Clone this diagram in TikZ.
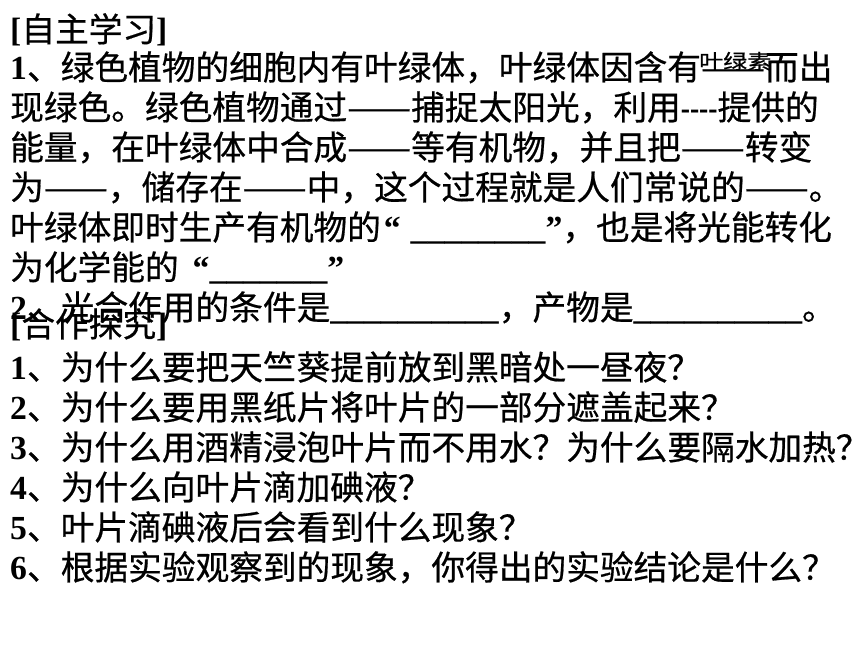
\documentclass[tikz,border=0pt]{standalone}
\usepackage{fontspec}
\usepackage{graphicx}
\newfontfamily\cjk{Noto Sans CJK SC}[FakeBold=0.6]
\newfontfamily\tnr{Liberation Serif}
\newcommand{\latb}[1]{{\tnr\bfseries #1}}
\newcommand{\uline}[1]{{\tnr\bfseries\foreach \k in {1,...,#1}{\_}}}
\newcommand{\hyph}{{\tnr\bfseries\scalebox{0.82}[1]{-{}-{}-{}-}}}
\newcommand{\dd}{\resizebox{64pt}{\height}{——}}
\begin{document}
\begin{tikzpicture}[x=1pt,y=-1pt,
  ln/.style={anchor=base west, inner sep=0pt, font=\cjk\fontsize{33.7}{40}\selectfont},
  small/.style={anchor=base west, inner sep=0pt, font=\cjk\fontsize{24}{28}\selectfont}]
\fill[white] (0,0) rectangle (860,645);
\useasboundingbox (0,0) rectangle (860,645);
\node[ln] (title1) at (10,41.8) {\latb{[}自主学习\latb{]}};
\node[ln] (l1) at (10,79.8) {\latb{1}、绿色植物的细胞内有叶绿体，叶绿体因含有\dd 而出};
\node[small] (yls) at (699,69) {\scalebox{1}[0.85]{叶绿素}};
\node[ln] (l2) at (10,119.8) {现绿色。绿色植物通过\dd 捕捉太阳光，利用\hyph 提供的};
\node[ln] (l3) at (10,159.8) {能量，在叶绿体中合成\dd 等有机物，并且把\dd 转变};
\node[ln] (l4) at (10,199.8) {为\dd ，储存在\dd 中，这个过程就是人们常说的\dd 。};
\node[ln] (l5) at (10,239.8) {叶绿体即时生产有机物的\hspace{3pt}\latb{“}\hspace{10pt}\uline{8}\latb{”}，也是将光能转化};
\node[ln] (l6) at (10,279.8) {为化学能的\hspace{14pt}\latb{“}\uline{7}\latb{”}};
\node[ln] (l7) at (10,319.8) {\latb{2}、光合作用的条件是\uline{10}，产物是\uline{10}。};
\node[ln] (title2) at (10,336.8) {\latb{[}合作探究\latb{]}};
\node[ln] (q1) at (10,379.8) {\latb{1}、为什么要把天竺葵提前放到黑暗处一昼夜？};
\node[ln] (q2) at (10,419.8) {\latb{2}、为什么要用黑纸片将叶片的一部分遮盖起来？};
\node[ln] (q3) at (10,459.8) {\latb{3}、为什么用酒精浸泡叶片而不用水？为什么要隔水加热？};
\node[ln] (q4) at (10,499.8) {\latb{4}、为什么向叶片滴加碘液？};
\node[ln] (q5) at (10,539.8) {\latb{5}、叶片滴碘液后会看到什么现象？};
\node[ln] (q6) at (10,579.8) {\latb{6}、根据实验观察到的现象，你得出的实验结论是什么？};
\end{tikzpicture}
\end{document}
